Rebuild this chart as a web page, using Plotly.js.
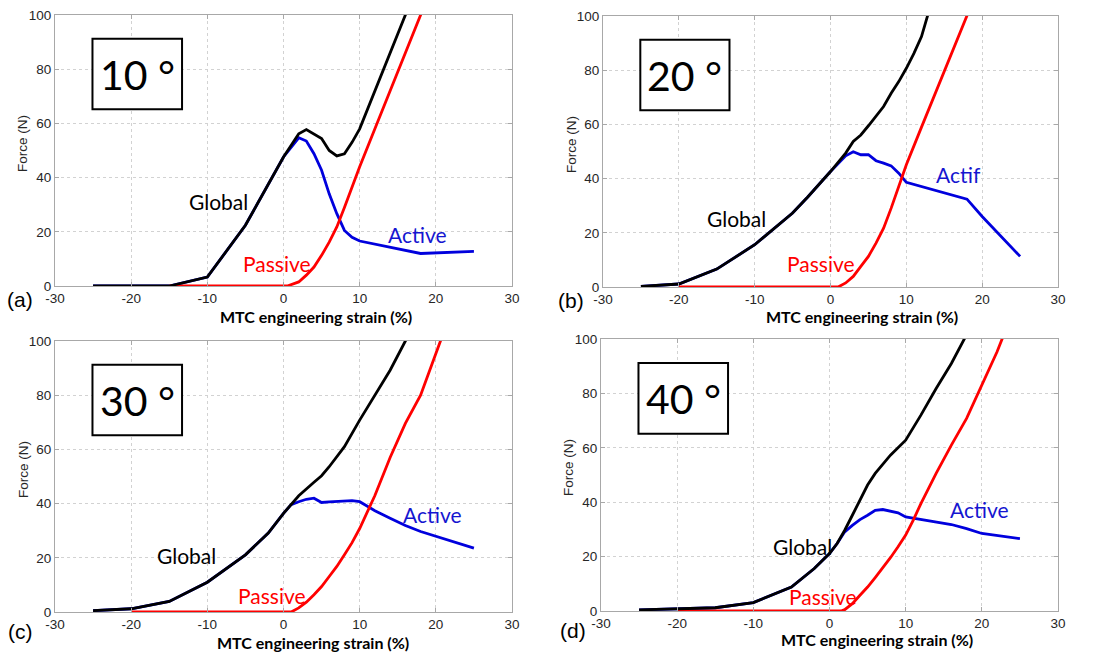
<!DOCTYPE html>
<html>
<head>
<meta charset="utf-8">
<script src="https://cdn.plot.ly/plotly-3.0.1.min.js"></script>
<style>html,body{margin:0;padding:0;background:#fff;}#chart{width:1093px;height:655px;}</style>
</head>
<body>
<div id="chart"></div>
<script>
// ---------- data ----------
const tickValsX = [-30, -20, -10, 0, 10, 20, 30];
const tickTextX = ['-30', '-20', '-10', '0', '10', '20', '30'];
const tickValsY = [0, 20, 40, 60, 80, 100];
const tickTextY = ['0', '20', '40', '60', '80', '100'];

const panelLetters = ['(a)', '(b)', '(c)', '(d)'];
const panelAngles = ['10 °', '20 °', '30 °', '40 °'];
const labelGlobal = 'Global';
const labelPassive = 'Passive';
const labelActive = ['Active', 'Actif', 'Active', 'Active'];
const xTitle = 'MTC engineering strain (%)';
const yTitle = 'Force (N)';

// panel (a) 10°
const aGlobalX = [-25, -20, -15, -10, -5, 0, 2, 3, 5, 6, 7, 8, 9, 10, 12, 14, 16, 17];
const aGlobalY = [0, 0, 0, 3.3, 22.4, 47.6, 56.2, 57.7, 54.4, 50, 48, 48.8, 53, 58, 72, 86, 100, 107];
const aPassiveX = [-15, 0, 0.5, 2, 3, 4, 5, 6, 7, 8, 9, 10, 12, 14, 16, 18, 19];
const aPassiveY = [0, 0, 0, 1.5, 4, 7, 11.3, 16.2, 21.8, 29, 36.5, 44, 58, 72, 86, 100, 107];
const aActiveX = [-25, -15, -10, -5, 0, 1.5, 2, 3, 4, 5, 6, 7, 8, 9, 10, 18, 25];
const aActiveY = [0, 0, 3.3, 22.4, 47.6, 53, 54.7, 53.5, 48.8, 42.7, 34, 26.7, 20.5, 18, 16.6, 12, 12.8];

// panel (b) 20°
const bGlobalX = [-25, -20, -15, -10, -5, -3, 0, 2, 3, 4, 5, 6, 7, 8, 9, 10, 11, 12, 13];
const bGlobalY = [0.2, 1.1, 6.6, 15.6, 27.3, 33.2, 42.6, 49.4, 53.7, 56.1, 59.5, 62.9, 66.6, 71.5, 75.8, 80.7, 86.2, 92.4, 102];
const bPassiveX = [-20, 0, 1, 2, 3, 4, 5, 6, 7, 8, 9, 10, 12, 14, 16, 18, 19];
const bPassiveY = [0, 0, 0, 1.5, 3.9, 7.6, 11.3, 16.2, 21.7, 29.1, 37.1, 45.1, 59, 72.5, 86, 100, 107];
const bActiveX = [-25, -20, -15, -10, -5, -3, 0, 1, 2, 3, 4, 5, 6, 7, 8, 9, 10, 18, 20, 25];
const bActiveY = [0.2, 1.1, 6.6, 15.6, 27.3, 33.2, 42.6, 45.7, 48.4, 49.9, 48.8, 48.8, 46.6, 45.7, 44.7, 42, 38.6, 32.4, 26, 11.3];

// panel (c) 30°
const cGlobalX = [-25, -20, -15, -10, -5, -2, 0, 1, 2, 4, 5, 6, 7, 8, 10, 12, 14, 16, 17];
const cGlobalY = [0.5, 1.2, 3.9, 11, 21.1, 29.1, 36.4, 39.7, 42.9, 47.9, 50.3, 53.6, 57.3, 61, 70.8, 80, 89.2, 100, 105];
const cPassiveX = [-20, 0, 1, 2, 3, 4, 5, 6, 7, 8, 9, 10, 11, 12, 14, 16, 18, 20, 21];
const cPassiveY = [0, 0, 0, 1.5, 3.6, 6.4, 9.4, 13.1, 16.8, 21.1, 25.6, 30.8, 36.8, 43, 57, 69.6, 80, 95, 103];
const cActiveX = [-25, -20, -15, -10, -5, -2, 0, 1, 2, 3, 4, 5, 6, 8, 9, 10, 11, 12, 14, 16, 18, 20, 25];
const cActiveY = [0.5, 1.2, 3.9, 11, 21.1, 29.1, 36.4, 39.6, 40.7, 41.6, 42, 40.4, 40.6, 41.1, 41.1, 40.7, 38.9, 37.4, 34.6, 31.9, 29.7, 27.9, 23.6];

// panel (d) 40°
const dGlobalX = [-25, -20, -15, -10, -5, -2, 0, 1, 2, 3, 4, 5, 6, 8, 10, 12, 14, 16, 18];
const dGlobalY = [0.4, 0.7, 1.2, 3.1, 8.8, 15.6, 21.1, 24.8, 29.7, 35.2, 40.7, 46.3, 50.6, 57.3, 62.8, 72, 81.8, 91, 101.6];
const dPassiveX = [-20, 0, 1.5, 2, 3, 4, 5, 6, 7, 8, 9, 10, 11, 12, 14, 16, 18, 20, 22, 23];
const dPassiveY = [0, 0, 0, 0.5, 2.7, 5.8, 8.8, 12.3, 15.8, 19.6, 23.6, 27.9, 33.4, 39.5, 50.6, 61, 70.8, 83.1, 95.3, 102.4];
const dActiveX = [-25, -20, -15, -10, -5, -2, 0, 1, 1.5, 2, 3, 4, 5, 6, 7, 8, 9, 10, 12, 14, 16, 18, 20, 25];
const dActiveY = [0.4, 0.7, 1.2, 3.1, 8.8, 15.6, 21.1, 24.8, 27.2, 29.1, 31.5, 33.6, 35.2, 37, 37.3, 36.8, 36.1, 34.6, 33.6, 32.8, 31.8, 30.3, 28.5, 26.6];

// label anchor positions (data coords) per panel: [global, passive, active]
const labelGlobalPos = [[-8.5, 31.2], [-12.4, 25.4], [-12.7, 20.7], [-3.5, 23.6]];
const labelPassivePos = [[-0.8, 8.2], [-1.25, 8.8], [-1.5, 6.0], [-0.9, 5.4]];
const labelActivePos = [[17.6, 18.9], [16.9, 41.5], [19.6, 35.8], [19.7, 37.3]];

// ---------- layout ----------
const panels = [
  {gx: aGlobalX, gy: aGlobalY, px: aPassiveX, py: aPassiveY, ax: aActiveX, ay: aActiveY},
  {gx: bGlobalX, gy: bGlobalY, px: bPassiveX, py: bPassiveY, ax: bActiveX, ay: bActiveY},
  {gx: cGlobalX, gy: cGlobalY, px: cPassiveX, py: cPassiveY, ax: cActiveX, ay: cActiveY},
  {gx: dGlobalX, gy: dGlobalY, px: dPassiveX, py: dPassiveY, ax: dActiveX, ay: dActiveY}
];

const W = 1093, H = 655;
// pixel boxes [left, right, top, bottom]
const boxes = [[55, 512, 15, 286], [603, 1058, 16, 287], [55, 512, 341, 612], [601, 1058, 339, 611]];
const letterPos = [[20, 299], [571, 300], [20, 631], [573, 630]];
const xTitlePos = [[316, 316], [862, 317], [313, 642], [877, 639]];
const yTitlePos = [[23, 144], [571, 145], [23, 470], [569, 468]];

const BLACK = '#000000', RED = '#ff0000', BLUE = '#0000dd';
const LABEL_FONT = 'Lato, "Open Sans", sans-serif';
const AX_FONT = '"Liberation Sans", Arial, sans-serif';

const data = [];
const layout = {
  width: W, height: H,
  margin: {l: 0, r: 0, t: 0, b: 0},
  paper_bgcolor: '#ffffff', plot_bgcolor: '#ffffff',
  showlegend: false,
  annotations: [], shapes: []
};

panels.forEach((p, i) => {
  const n = i === 0 ? '' : String(i + 1);
  const xa = 'x' + n, ya = 'y' + n;
  const b = boxes[i];
  const common = {
    showline: true, linecolor: '#a8a8a8', linewidth: 1, mirror: 'ticks',
    ticks: 'inside', ticklen: 4, tickcolor: '#a8a8a8',
    showgrid: true, gridcolor: '#d2d2d2', griddash: 'dot', gridwidth: 1,
    zeroline: false, tickfont: {family: AX_FONT, size: 13.5, color: '#262626'},
    fixedrange: true
  };
  layout['xaxis' + n] = Object.assign({}, common, {
    domain: [b[0] / W, b[1] / W], anchor: ya, range: [-30, 30],
    tickmode: 'array', tickvals: tickValsX, ticktext: tickTextX, ticklabelstandoff: 0
  });
  layout['yaxis' + n] = Object.assign({}, common, {
    domain: [1 - b[3] / H, 1 - b[2] / H], anchor: xa, range: [0, 100],
    tickmode: 'array', tickvals: tickValsY, ticktext: tickTextY, ticklabelstandoff: 0
  });
  data.push({x: p.ax, y: p.ay, xaxis: xa, yaxis: ya, mode: 'lines', line: {color: BLUE, width: 2.8}, hoverinfo: 'skip'});
  data.push({x: p.px, y: p.py, xaxis: xa, yaxis: ya, mode: 'lines', line: {color: RED, width: 2.8}, hoverinfo: 'skip'});
  data.push({x: p.gx, y: p.gy, xaxis: xa, yaxis: ya, mode: 'lines', line: {color: BLACK, width: 2.8}, hoverinfo: 'skip'});

  // angle box
  layout.shapes.push({type: 'rect', xref: xa + ' domain', yref: ya + ' domain',
    x0: 0.082, x1: 0.278, y0: 0.652, y1: 0.912, line: {color: '#000', width: 2}, fillcolor: '#ffffff'});
  layout.annotations.push({xref: xa + ' domain', yref: ya + ' domain', x: 0.18, y: 0.782,
    text: panelAngles[i], showarrow: false, xanchor: 'center', yanchor: 'middle',
    font: {family: LABEL_FONT, size: 41, color: '#000'}});

  // curve labels
  layout.annotations.push({xref: xa, yref: ya, x: labelGlobalPos[i][0], y: labelGlobalPos[i][1],
    text: labelGlobal, showarrow: false, font: {family: LABEL_FONT, size: 21, color: BLACK}});
  layout.annotations.push({xref: xa, yref: ya, x: labelPassivePos[i][0], y: labelPassivePos[i][1],
    text: labelPassive, showarrow: false, font: {family: LABEL_FONT, size: 21, color: RED}});
  layout.annotations.push({xref: xa, yref: ya, x: labelActivePos[i][0], y: labelActivePos[i][1],
    text: labelActive[i], showarrow: false, font: {family: LABEL_FONT, size: 21, color: '#1515d0'}});

  // panel letter
  layout.annotations.push({xref: 'paper', yref: 'paper', x: letterPos[i][0] / W, y: 1 - letterPos[i][1] / H,
    text: panelLetters[i], showarrow: false, xanchor: 'center', yanchor: 'middle',
    font: {family: AX_FONT, size: 21, color: '#000'}});
  // x title
  layout.annotations.push({xref: 'paper', yref: 'paper', x: xTitlePos[i][0] / W, y: 1 - xTitlePos[i][1] / H,
    text: '<b>' + xTitle + '</b>', showarrow: false, xanchor: 'center', yanchor: 'middle',
    font: {family: LABEL_FONT, size: 16, color: '#000'}});
  // y title
  layout.annotations.push({xref: 'paper', yref: 'paper', x: yTitlePos[i][0] / W, y: 1 - yTitlePos[i][1] / H,
    text: yTitle, showarrow: false, xanchor: 'center', yanchor: 'middle', textangle: -90,
    font: {family: AX_FONT, size: 13.5, color: '#262626'}});
});

Plotly.newPlot('chart', data, layout, {displayModeBar: false, staticPlot: true});
</script>
</body>
</html>
